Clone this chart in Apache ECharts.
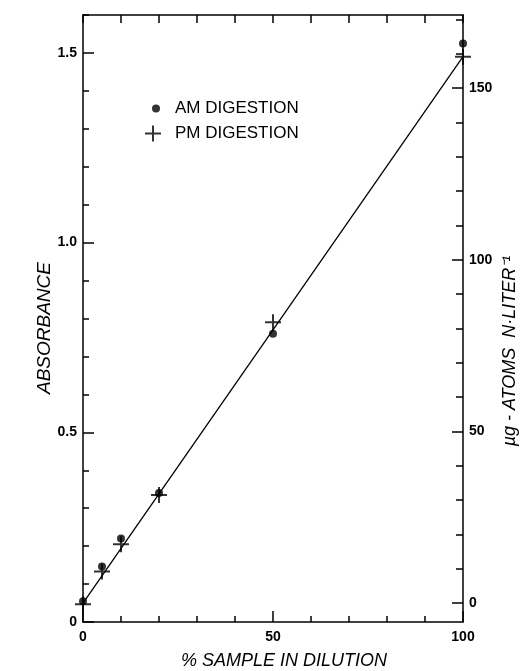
<!DOCTYPE html>
<html>
<head>
<meta charset="utf-8">
<script src="https://cdn.jsdelivr.net/npm/echarts@6/dist/echarts.min.js"></script>
<style>
  html, body { margin: 0; padding: 0; background: #fff; }
  #chart { width: 522px; height: 671px; }
</style>
</head>
<body>
<div id="chart"></div>
<script>
// ---- data ----
const xValues = [0, 5, 10, 20, 50, 100];                 // % sample in dilution
const amAbsorbance = [0.055, 0.146, 0.22, 0.34, 0.76, 1.525];
const pmAbsorbance = [0.047, 0.133, 0.205, 0.335, 0.79, 1.49];
const fitX = [0, 100];
const fitY = [0.05, 1.49];
const seriesNames = ['AM DIGESTION', 'PM DIGESTION'];
const xLabelValues = [0, 50, 100];
const leftLabelValues = [0, 0.5, 1.0, 1.5];
const rightLabelValues = [0, 50, 100, 150];
const rightMinorValues = [0, 10, 20, 30, 40, 50, 60, 70, 80, 90, 100, 110, 120, 130, 140, 150, 160, 170];
const xTitle = '% SAMPLE IN DILUTION';
const leftTitle = 'ABSORBANCE';
const rightTitle = 'µg - ATOMS  N·LITER⁻¹';

const FONT = '"Liberation Sans", Arial, sans-serif';
const PLUS = 'path://M7,0H9V7H16V9H9V16H7V9H0V7H7Z';
const lineStyle = { color: '#000', width: 1.5 };
const labelStyle = { color: '#000', fontFamily: FONT, fontSize: 14, fontWeight: 'bold' };

const amData = xValues.map((x, i) => [x, amAbsorbance[i]]);
const pmData = xValues.map((x, i) => [x, pmAbsorbance[i]]);
const fitData = fitX.map((x, i) => [x, fitY[i]]);

const chart = echarts.init(document.getElementById('chart'), null, { renderer: 'canvas' });

const extras = { splitLine: { show: false }, splitArea: { show: false } };
const lineOn = { show: true, onZero: false, lineStyle: lineStyle };
const lineOff = { show: false, onZero: false };

chart.setOption({
  animation: false,
  backgroundColor: '#fff',
  grid: { left: 83, right: 59, top: 15, bottom: 49, containLabel: false },
  legend: [
    {
      data: [{ name: seriesNames[0], icon: 'circle' }],
      left: 147, top: 95, itemWidth: 8, itemHeight: 8,
      textStyle: { color: '#000', fontFamily: FONT, fontSize: 17, padding: [0, 0, 0, 10] },
      selectedMode: false
    },
    {
      data: [{ name: seriesNames[1], icon: PLUS }],
      left: 140, top: 120, itemWidth: 16, itemHeight: 16,
      textStyle: { color: '#000', fontFamily: FONT, fontSize: 17, padding: [0, 0, 0, 9] },
      selectedMode: false
    }
  ],
  xAxis: [
    Object.assign({
      type: 'value', position: 'bottom', min: 0, max: 100, interval: 10,
      axisLine: lineOn,
      axisTick: { show: true, inside: true, length: 6, lineStyle: lineStyle },
      axisLabel: { show: true, customValues: xLabelValues, margin: 8, ...labelStyle }
    }, extras),
    Object.assign({
      type: 'value', position: 'bottom', min: 0, max: 100,
      axisLine: lineOff,
      axisTick: { show: true, inside: true, length: 11, customValues: xLabelValues, lineStyle: lineStyle },
      axisLabel: { show: false }
    }, extras),
    Object.assign({
      type: 'value', position: 'top', min: 0, max: 100, interval: 10,
      axisLine: lineOn,
      axisTick: { show: true, inside: true, length: 8, lineStyle: lineStyle },
      axisLabel: { show: false }
    }, extras)
  ],
  yAxis: [
    Object.assign({
      type: 'value', position: 'left', min: 0, max: 1.6, interval: 0.1,
      axisLine: lineOn,
      axisTick: { show: true, inside: true, length: 6, lineStyle: lineStyle },
      axisLabel: {
        show: true, customValues: leftLabelValues, margin: 6, ...labelStyle,
        formatter: v => (v === 0 ? '0' : v.toFixed(1))
      }
    }, extras),
    Object.assign({
      type: 'value', position: 'left', min: 0, max: 1.6,
      axisLine: lineOff,
      axisTick: { show: true, inside: true, length: 11, customValues: leftLabelValues, lineStyle: lineStyle },
      axisLabel: { show: false }
    }, extras),
    Object.assign({
      type: 'value', position: 'right', min: -5.5, max: 171.3,
      axisLine: lineOn,
      axisTick: { show: true, inside: true, length: 11, customValues: rightLabelValues, lineStyle: lineStyle },
      axisLabel: { show: true, customValues: rightLabelValues, margin: 6, ...labelStyle }
    }, extras),
    Object.assign({
      type: 'value', position: 'right', min: -5.5, max: 171.3,
      axisLine: lineOff,
      axisTick: { show: true, inside: true, length: 7, customValues: rightMinorValues, lineStyle: lineStyle },
      axisLabel: { show: false }
    }, extras)
  ],
  series: [
    {
      name: 'fit', type: 'line', data: fitData, xAxisIndex: 0, yAxisIndex: 0,
      showSymbol: false, symbol: 'none', silent: true,
      lineStyle: { color: '#000', width: 1.3 }, z: 2
    },
    {
      name: seriesNames[0], type: 'scatter', data: amData, xAxisIndex: 0, yAxisIndex: 0,
      symbol: 'circle', symbolSize: 8, itemStyle: { color: '#000' }, z: 3
    },
    {
      name: seriesNames[1], type: 'scatter', data: pmData, xAxisIndex: 0, yAxisIndex: 0,
      symbol: PLUS, symbolSize: 16, itemStyle: { color: '#000' }, z: 4
    }
  ],
  graphic: [
    {
      type: 'text', x: 284, y: 661,
      style: { text: xTitle, fill: '#000', font: 'italic 18px ' + FONT, align: 'center', verticalAlign: 'middle' }
    },
    {
      type: 'text', x: 45, y: 328, rotation: Math.PI / 2,
      style: { text: leftTitle, fill: '#000', font: 'italic 19px ' + FONT, align: 'center', verticalAlign: 'middle' }
    },
    {
      type: 'text', x: 510, y: 351, rotation: Math.PI / 2,
      style: { text: rightTitle, fill: '#000', font: 'italic 18px ' + FONT, align: 'center', verticalAlign: 'middle' }
    }
  ]
});
</script>
</body>
</html>
